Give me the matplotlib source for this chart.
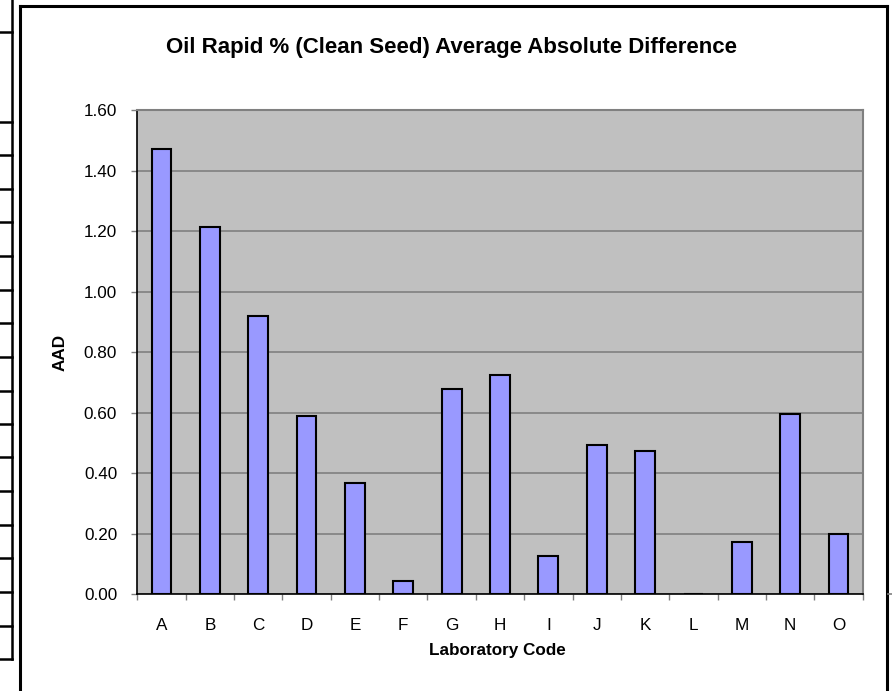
import numpy as np
import matplotlib
matplotlib.use("Agg")
from matplotlib import pyplot as plt
from matplotlib.lines import Line2D

labs = ["A", "B", "C", "D", "E", "F", "G", "H", "I", "J", "K", "L", "M", "N", "O"]
aad = [1.47, 1.215, 0.92, 0.59, 0.368, 0.044, 0.678, 0.723, 0.127, 0.493, 0.474, 0.0, 0.172, 0.596, 0.200]
yticks = [0.0, 0.2, 0.4, 0.6, 0.8, 1.0, 1.2, 1.4, 1.6]

plt.rcParams['font.family'] = ['Liberation Sans', 'DejaVu Sans']

W, H = 892, 691
fig = plt.figure(figsize=(W / 100, H / 100), dpi=100)

def fx(x):
    return x / W

def fy(y):
    return 1 - y / H

# plot area in pixels: x 137.3..862.7, y 110..594.3
ax = fig.add_axes([fx(137.3), fy(594.3), (862.7 - 137.3) / W, (594.3 - 110) / H])
ax.set_facecolor('#C0C0C0')

xs = np.arange(len(labs))
ax.bar(xs, aad, width=0.41, color='#9999FF', edgecolor='black', linewidth=1.5, zorder=3)

ax.set_xlim(-0.5, len(labs) - 0.5)
ax.set_ylim(0, 1.6)
ax.set_yticks(yticks)
ax.set_yticklabels(["%.2f" % v for v in yticks])
ax.set_xticks(xs)
ax.set_xticklabels(labs)
ax.set_xticks(np.arange(-0.5, len(labs), 1), minor=True)

ax.yaxis.grid(True, color='#808080', linewidth=1.2, zorder=1)
ax.set_axisbelow(True)

ax.tick_params(axis='y', length=4.5, width=1, color='#808080', pad=10, labelsize=12.3)
ax.tick_params(axis='x', which='major', length=0, pad=17, labelsize=12.3)
ax.tick_params(axis='x', which='minor', length=4.5, width=1, color='#808080')

for s in ['top', 'right']:
    ax.spines[s].set_color('#808080')
    ax.spines[s].set_linewidth(1.5)
for s in ['left', 'bottom']:
    ax.spines[s].set_color('black')
    ax.spines[s].set_linewidth(1.2)
ax.spines['bottom'].set_zorder(4)

fig.text(fx(452), fy(48), "Oil Rapid % (Clean Seed) Average Absolute Difference",
         ha='center', va='center', fontsize=16, fontweight='bold')
fig.text(fx(497), fy(650), "Laboratory Code", ha='center', va='center',
         fontsize=12.3, fontweight='bold')
fig.text(fx(60), fy(352), "AAD", ha='center', va='center', rotation=90,
         fontsize=12.3, fontweight='bold')

# chart frame
def line(xa, ya, xb, yb, lw=2.2, c='black'):
    fig.add_artist(Line2D([fx(xa), fx(xb)], [fy(ya), fy(yb)], transform=fig.transFigure,
                          color=c, linewidth=lw, solid_capstyle='projecting'))

line(19.5, 5.5, 19.5, 691)
line(19.5, 5.5, 886.5, 5.5)
line(886.5, 5.5, 886.5, 691)

# spreadsheet grid lines on the left edge
line(11.5, 0, 11.5, 659, lw=1.8)
for yy in [32, 122, 155, 189, 222, 256, 290, 323, 357, 391, 424, 457, 491, 525, 558, 592, 626, 659]:
    line(0, yy, 11.5, yy, lw=1.8)
line(888, 594, 892, 594, lw=1.2, c='#808080')

fig.savefig("out.png", dpi=100)
